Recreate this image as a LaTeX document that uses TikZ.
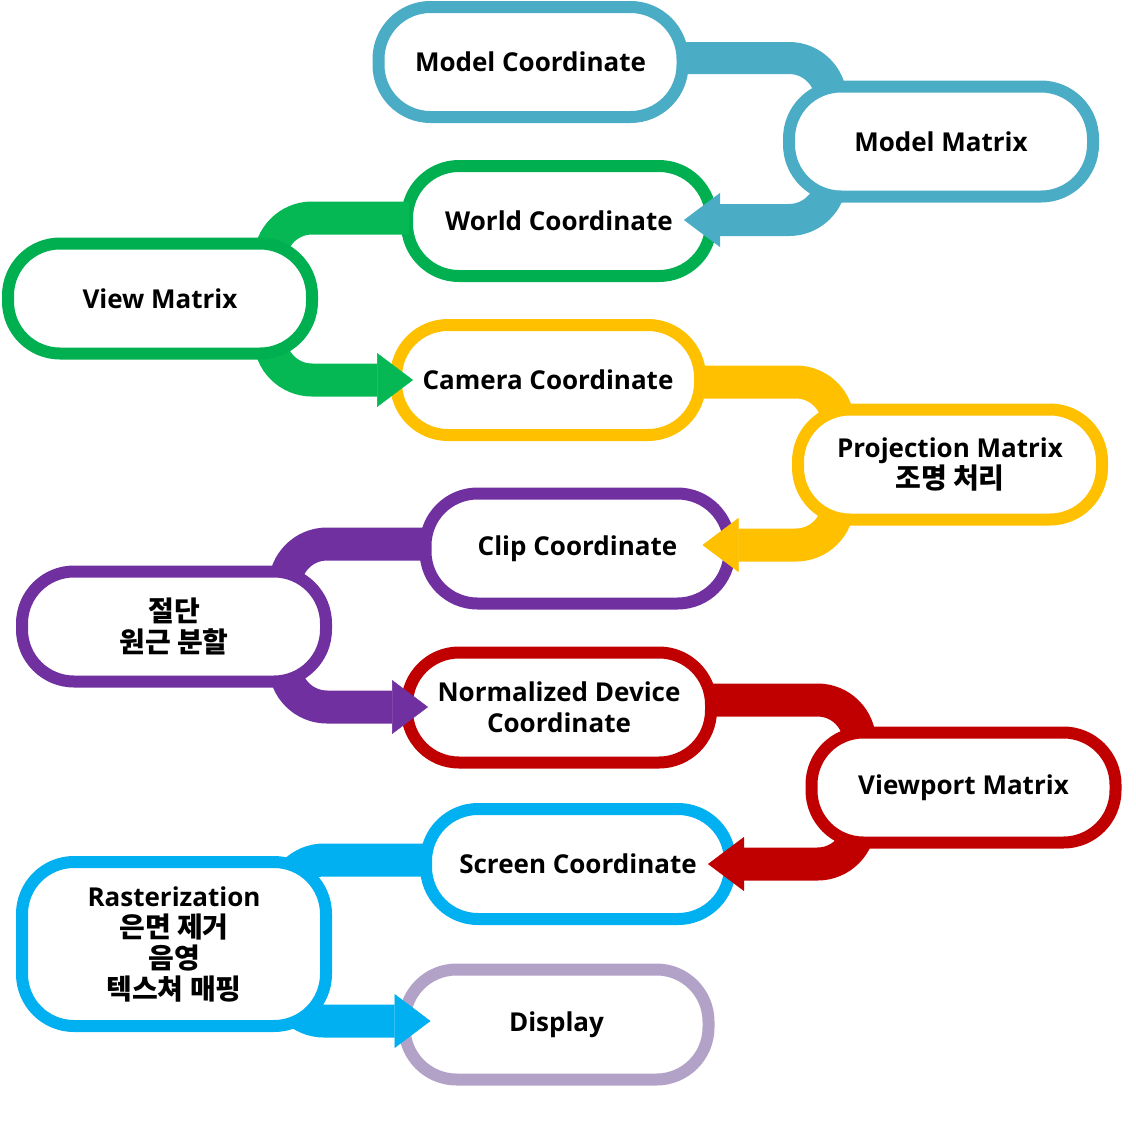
\documentclass[tikz,border=0pt]{standalone}
\usepackage{fontspec}
\setmainfont{Open Sans}
\newfontfamily\krfam{Noto Sans CJK KR Bold}
\newcommand{\kr}{\krfam\fontsize{28}{31}\selectfont}
\usetikzlibrary{arrows.meta,calc}
\pgfdeclarelayer{low}
\pgfdeclarelayer{mid}
\pgfsetlayers{low,mid,main}
\definecolor{cblue}{HTML}{4BACC6}
\definecolor{cgreen}{HTML}{00B050}
\definecolor{cgreenb}{HTML}{06B854}
\definecolor{cyellow}{HTML}{FFC000}
\definecolor{cpurple}{HTML}{7030A0}
\definecolor{cred}{HTML}{C00000}
\definecolor{ccyan}{HTML}{00B0F0}
\definecolor{clav}{HTML}{B3A2C7}
\tikzset{
  stage/.style={draw=#1, line width=12pt, fill=white, rounded corners=52pt,
    minimum width=304pt, minimum height=110pt, inner sep=0pt, align=center,
    text=black, font=\fontsize{26}{31}\selectfont\bfseries},
  band/.style={draw=#1, line width=33pt, rounded corners=42pt,
    -{Triangle[width=54pt,length=36pt,line width=0.5pt]}},
}
\begin{document}
\begin{tikzpicture}[x=1pt,y=-1pt]
\useasboundingbox (0,0) rectangle (1136,1128);
% matrix / process nodes (top layer)
\node[stage=cblue]   (mm)  at (941,141.5) {Model Matrix};
\node[stage=cgreen]  (vm)  at (160,298.5) {View Matrix};
\node[stage=cyellow] (pm)  at (950,464.5) {Projection Matrix\\{\kr 조명 처리}};
\node[stage=cpurple] (cut) at (174,626.5) {{\kr 절단}\\{\kr 원근 분할}};
\node[stage=cred]    (vp)  at (963.5,787.5) {Viewport Matrix};
\node[stage=ccyan, minimum height=164pt] (ras) at (174,944)
  {Rasterization\\{\kr 은면 제거}\\{\kr 음영}\\{\kr 텍스쳐 매핑}};
% coordinate nodes (bottom layer)
\begin{pgfonlayer}{low}
\node[stage=cblue]   (mc)  at (530.5,62) {Model Coordinate};
\node[stage=cgreen]  (wc)  at (559,221) {World Coordinate};
\node[stage=cyellow] (cc)  at (548,380) {Camera Coordinate};
\node[stage=cpurple] (cl)  at (577.5,548.5) {Clip Coordinate};
\node[stage=cred]    (ndc) at (559,707.5) {Normalized Device\\Coordinate};
\node[stage=ccyan]   (sc)  at (578,864) {Screen Coordinate};
\node[stage=clav]    (dis) at (556.5,1024.5) {Display};
\end{pgfonlayer}
% connectors (middle layer)
\begin{pgfonlayer}{mid}
\coordinate (s1) at ($(mc.east)+(-8,-4)$);
\coordinate (v1) at ($(mm.west)+(48,0)$);
\coordinate (t1) at ($(wc.east)+(-33,-1)$);
\draw[band=cblue, line width=32pt] (s1) -- (s1 -| v1) -- (v1 |- t1) -- (t1);
\coordinate (s2) at ($(wc.west)+(8,-3)$);
\coordinate (v2) at ($(vm.east)+(-48,0)$);
\coordinate (t2) at ($(cc.west)+(23,0)$);
\draw[band=cgreenb] (s2) -- (s2 -| v2) -- (v2 |- t2) -- (t2);
\coordinate (s3) at ($(cc.east)+(-8,2)$);
\coordinate (v3) at ($(pm.west)+(46,0)$);
\coordinate (t3) at ($(cl.east)+(-33,-3.5)$);
\draw[band=cyellow] (s3) -- (s3 -| v3) -- (v3 |- t3) -- (t3);
\coordinate (s4) at ($(cl.west)+(8,-4.5)$);
\coordinate (v4) at ($(cut.east)+(-47,0)$);
\coordinate (t4) at ($(ndc.west)+(27,-0.5)$);
\draw[band=cpurple] (s4) -- (s4 -| v4) -- (v4 |- t4) -- (t4);
\coordinate (s5) at ($(ndc.east)+(-8,-7.5)$);
\coordinate (v5) at ($(vp.west)+(54,0)$);
\coordinate (t5) at ($(sc.east)+(-28,0)$);
\draw[band=cred] (s5) -- (s5 -| v5) -- (v5 |- t5) -- (t5);
\coordinate (s6) at ($(sc.west)+(8,-4)$);
\coordinate (v6) at ($(ras.east)+(-50,0)$);
\coordinate (t6) at ($(dis.west)+(32,-3.5)$);
\draw[band=ccyan] (s6) -- (s6 -| v6) -- (v6 |- t6) -- (t6);
\end{pgfonlayer}
\end{tikzpicture}
\end{document}
